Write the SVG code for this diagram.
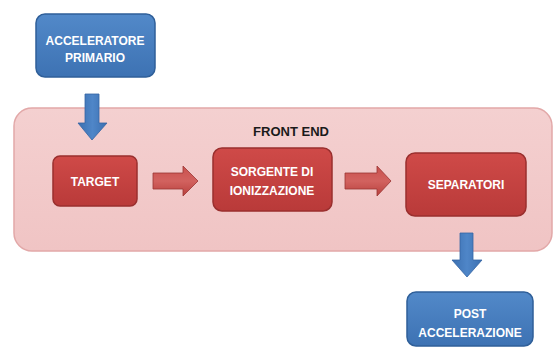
<svg xmlns="http://www.w3.org/2000/svg" width="555" height="349" viewBox="0 0 555 349">
<defs>
<linearGradient id="gRed" x1="0" y1="0" x2="0" y2="1"><stop offset="0" stop-color="#cf4a48"/><stop offset="1" stop-color="#b93a39"/></linearGradient>
<linearGradient id="gBlue" x1="0" y1="0" x2="0" y2="1"><stop offset="0" stop-color="#5289c9"/><stop offset="1" stop-color="#3d72b3"/></linearGradient>
<linearGradient id="gPink" x1="0" y1="0" x2="0" y2="1"><stop offset="0" stop-color="#f4d0d0"/><stop offset="1" stop-color="#f0c4c4"/></linearGradient>
<linearGradient id="gArrowB" x1="0" y1="0" x2="1" y2="0"><stop offset="0" stop-color="#3b6fb0"/><stop offset="0.5" stop-color="#4f86c8"/><stop offset="1" stop-color="#3b6fb0"/></linearGradient>
<linearGradient id="gArrowR" x1="0" y1="0" x2="0" y2="1"><stop offset="0" stop-color="#c9504d"/><stop offset="0.5" stop-color="#d2625f"/><stop offset="1" stop-color="#b8403d"/></linearGradient>
</defs>
<style>
.red{fill:url(#gRed);stroke:#9a2f2e;stroke-width:1.5}
.blue{fill:url(#gBlue);stroke:#2f5f99;stroke-width:1.5}
.cont{fill:url(#gPink);stroke:#e2a8a8;stroke-width:1.5}
.lbl{font-family:"Liberation Sans",Arial,sans-serif;font-weight:bold;font-size:12px;fill:#ffffff;text-anchor:middle}
.title{font-family:"Liberation Sans",Arial,sans-serif;font-weight:bold;font-size:13px;fill:#1a1a1a;text-anchor:middle}
.ab{fill:url(#gArrowB);stroke:#3565a3;stroke-width:0.8}
.ar{fill:url(#gArrowR);stroke:#9a3533;stroke-width:0.8}
</style>
<rect width="555" height="349" fill="#ffffff"/>
<g id="front-end">
<rect class="cont" x="14" y="108" width="538" height="143" rx="18"/>
<text class="title" x="291" y="136">FRONT END</text>
</g>
<g id="accelaratore-primario">
<rect class="blue" x="36" y="14" width="119" height="63" rx="9"/>
<text class="lbl" x="95" y="45">ACCELERATORE</text>
<text class="lbl" x="95" y="62">PRIMARIO</text>
</g>
<g id="target">
<rect class="red" x="53" y="156" width="84" height="50" rx="7"/>
<text class="lbl" x="95" y="186">TARGET</text>
</g>
<g id="sorgente">
<rect class="red" x="213" y="148" width="119" height="63" rx="9"/>
<text class="lbl" x="272" y="176">SORGENTE DI</text>
<text class="lbl" x="272" y="195">IONIZZAZIONE</text>
</g>
<g id="separatori">
<rect class="red" x="406" y="153" width="120" height="63" rx="9"/>
<text class="lbl" x="466" y="189">SEPARATORI</text>
</g>
<g id="post-accelerazione">
<rect class="blue" x="407" y="292" width="126" height="54" rx="9"/>
<text class="lbl" x="470" y="318">POST</text>
<text class="lbl" x="470" y="337">ACCELERAZIONE</text>
</g>
<g id="connectors">
<path class="ab" d="M85,94 H99 V123 H107 L92,140 L78,123 H85 Z"/>
<path class="ar" d="M153,173 H183 V166 L198,181 L183,196 V189 H153 Z"/>
<path class="ar" d="M345,173 H377 V166 L391,181 L377,196 V189 H345 Z"/>
<path class="ab" d="M460,233 H473 V260 H482 L467,277 L452,260 H460 Z"/>
</g>
</svg>
